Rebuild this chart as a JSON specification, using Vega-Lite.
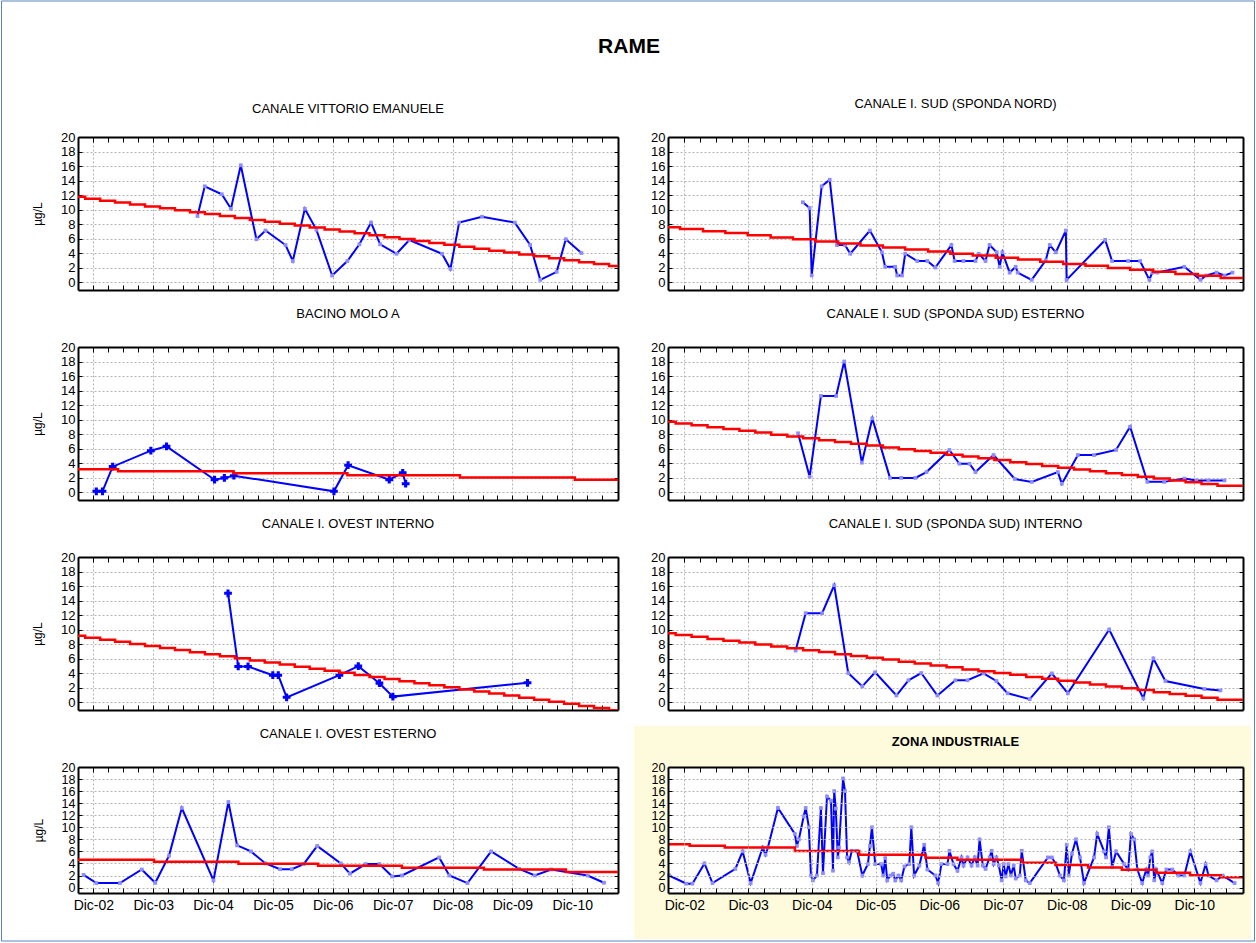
{
"$schema": "https://vega.github.io/schema/vega-lite/v6.json",
"background": "white",
"padding": {"left": 0, "top": 0, "right": 0, "bottom": 0},
"title": {"text": "RAME", "fontSize": 21, "fontWeight": "bold", "font": "Liberation Sans", "offset": -56, "anchor": "middle", "frame": "group", "dx": 551},
"columns": 2,
"bounds": "flush",
"spacing": {"row": 57, "column": 50},
"datasets": {
"obs": [
{"p":1,"t":2004.656,"v":9.1},{"p":1,"t":2004.777,"v":13.2},{"p":1,"t":2005.063,"v":12.1},{"p":1,"t":2005.215,"v":10.1},{"p":1,"t":2005.379,"v":16.1},{"p":1,"t":2005.640,"v":5.9},{"p":1,"t":2005.792,"v":7.1},{"p":1,"t":2006.127,"v":5.1},{"p":1,"t":2006.248,"v":2.9},{"p":1,"t":2006.449,"v":10.1},{"p":1,"t":2006.643,"v":7.2},{"p":1,"t":2006.905,"v":0.9},{"p":1,"t":2007.160,"v":2.9},{"p":1,"t":2007.361,"v":5.2},{"p":1,"t":2007.555,"v":8.2},{"p":1,"t":2007.707,"v":5.2},{"p":1,"t":2007.981,"v":3.9},{"p":1,"t":2008.194,"v":5.8},{"p":1,"t":2008.741,"v":3.9},{"p":1,"t":2008.881,"v":1.8},{"p":1,"t":2009.026,"v":8.2},{"p":1,"t":2009.409,"v":9.0},{"p":1,"t":2009.957,"v":8.2},{"p":1,"t":2010.212,"v":5.1},{"p":1,"t":2010.382,"v":0.3},{"p":1,"t":2010.656,"v":1.4},{"p":1,"t":2010.808,"v":5.9},{"p":1,"t":2011.069,"v":4.0},
{"p":2,"t":2004.775,"v":11.0},{"p":2,"t":2004.882,"v":10.2},{"p":2,"t":2004.914,"v":0.9},{"p":2,"t":2005.071,"v":13.2},{"p":2,"t":2005.197,"v":14.1},{"p":2,"t":2005.311,"v":5.1},{"p":2,"t":2005.437,"v":5.1},{"p":2,"t":2005.519,"v":3.9},{"p":2,"t":2005.827,"v":7.1},{"p":2,"t":2006.016,"v":4.1},{"p":2,"t":2006.066,"v":2.1},{"p":2,"t":2006.224,"v":2.1},{"p":2,"t":2006.255,"v":0.9},{"p":2,"t":2006.331,"v":0.9},{"p":2,"t":2006.381,"v":3.9},{"p":2,"t":2006.570,"v":2.9},{"p":2,"t":2006.728,"v":2.9},{"p":2,"t":2006.854,"v":2.0},{"p":2,"t":2007.106,"v":5.1},{"p":2,"t":2007.156,"v":2.9},{"p":2,"t":2007.295,"v":2.9},{"p":2,"t":2007.484,"v":2.9},{"p":2,"t":2007.534,"v":3.9},{"p":2,"t":2007.641,"v":2.9},{"p":2,"t":2007.704,"v":5.1},{"p":2,"t":2007.817,"v":4.1},{"p":2,"t":2007.862,"v":2.1},{"p":2,"t":2007.906,"v":4.1},{"p":2,"t":2008.019,"v":1.3},{"p":2,"t":2008.114,"v":2.1},{"p":2,"t":2008.145,"v":1.3},{"p":2,"t":2008.365,"v":0.3},{"p":2,"t":2008.586,"v":3.0},{"p":2,"t":2008.649,"v":5.1},{"p":2,"t":2008.744,"v":4.1},{"p":2,"t":2008.901,"v":7.1},{"p":2,"t":2008.913,"v":0.3},{"p":2,"t":2009.518,"v":5.8},{"p":2,"t":2009.626,"v":2.9},{"p":2,"t":2009.878,"v":2.9},{"p":2,"t":2010.066,"v":2.9},{"p":2,"t":2010.211,"v":0.3},{"p":2,"t":2010.256,"v":1.3},{"p":2,"t":2010.338,"v":1.3},{"p":2,"t":2010.760,"v":2.1},{"p":2,"t":2011.012,"v":0.3},{"p":2,"t":2011.106,"v":0.9},{"p":2,"t":2011.264,"v":1.3},{"p":2,"t":2011.390,"v":0.9},{"p":2,"t":2011.515,"v":1.3},
{"p":3,"t":2002.966,"v":0.1},{"p":3,"t":2003.069,"v":0.1},{"p":3,"t":2003.239,"v":3.5},{"p":3,"t":2003.877,"v":5.7},{"p":3,"t":2004.139,"v":6.3},{"p":3,"t":2004.941,"v":1.7},{"p":3,"t":2005.105,"v":1.95},{"p":3,"t":2005.263,"v":2.25},{"p":3,"t":2006.935,"v":0.1},{"p":3,"t":2007.172,"v":3.7},{"p":3,"t":2007.859,"v":1.7},{"p":3,"t":2008.084,"v":2.65},{"p":3,"t":2008.133,"v":1.15},
{"p":4,"t":2004.700,"v":8.1},{"p":4,"t":2004.882,"v":2.1},{"p":4,"t":2005.059,"v":13.25},{"p":4,"t":2005.298,"v":13.25},{"p":4,"t":2005.424,"v":18.0},{"p":4,"t":2005.701,"v":4.05},{"p":4,"t":2005.865,"v":10.15},{"p":4,"t":2006.142,"v":1.95},{"p":4,"t":2006.318,"v":1.95},{"p":4,"t":2006.539,"v":1.95},{"p":4,"t":2006.715,"v":2.75},{"p":4,"t":2007.074,"v":5.8},{"p":4,"t":2007.231,"v":3.9},{"p":4,"t":2007.389,"v":3.9},{"p":4,"t":2007.484,"v":2.75},{"p":4,"t":2007.767,"v":5.1},{"p":4,"t":2008.101,"v":1.8},{"p":4,"t":2008.366,"v":1.4},{"p":4,"t":2008.776,"v":2.75},{"p":4,"t":2008.838,"v":1.15},{"p":4,"t":2009.090,"v":5.1},{"p":4,"t":2009.342,"v":5.1},{"p":4,"t":2009.688,"v":5.8},{"p":4,"t":2009.909,"v":9.0},{"p":4,"t":2010.180,"v":1.4},{"p":4,"t":2010.444,"v":1.4},{"p":4,"t":2010.760,"v":1.85},{"p":4,"t":2010.948,"v":1.6},{"p":4,"t":2011.137,"v":1.6},{"p":4,"t":2011.389,"v":1.6},
{"p":5,"t":2005.166,"v":15.0},{"p":5,"t":2005.336,"v":4.9},{"p":5,"t":2005.500,"v":4.9},{"p":5,"t":2005.914,"v":3.7},{"p":5,"t":2006.005,"v":3.7},{"p":5,"t":2006.145,"v":0.65},{"p":5,"t":2007.026,"v":3.7},{"p":5,"t":2007.342,"v":4.95},{"p":5,"t":2007.695,"v":2.6},{"p":5,"t":2007.920,"v":0.75},{"p":5,"t":2010.169,"v":2.65},
{"p":6,"t":2004.662,"v":7.1},{"p":6,"t":2004.819,"v":12.25},{"p":6,"t":2005.078,"v":12.25},{"p":6,"t":2005.267,"v":16.1},{"p":6,"t":2005.487,"v":4.0},{"p":6,"t":2005.708,"v":2.15},{"p":6,"t":2005.909,"v":4.1},{"p":6,"t":2006.243,"v":0.9},{"p":6,"t":2006.432,"v":3.0},{"p":6,"t":2006.633,"v":4.0},{"p":6,"t":2006.886,"v":0.9},{"p":6,"t":2007.169,"v":3.0},{"p":6,"t":2007.358,"v":3.0},{"p":6,"t":2007.610,"v":3.95},{"p":6,"t":2007.811,"v":2.9},{"p":6,"t":2007.988,"v":1.2},{"p":6,"t":2008.334,"v":0.4},{"p":6,"t":2008.681,"v":3.95},{"p":6,"t":2008.932,"v":1.2},{"p":6,"t":2009.581,"v":10.0},{"p":6,"t":2010.117,"v":0.5},{"p":6,"t":2010.274,"v":6.0},{"p":6,"t":2010.463,"v":2.9},{"p":6,"t":2011.075,"v":1.8},{"p":6,"t":2011.326,"v":1.6},
{"p":7,"t":2002.753,"v":2.1},{"p":7,"t":2002.966,"v":0.75},{"p":7,"t":2003.361,"v":0.75},{"p":7,"t":2003.725,"v":3.0},{"p":7,"t":2003.950,"v":0.8},{"p":7,"t":2004.181,"v":5.3},{"p":7,"t":2004.394,"v":13.2},{"p":7,"t":2004.923,"v":1.2},{"p":7,"t":2005.172,"v":14.2},{"p":7,"t":2005.318,"v":7.0},{"p":7,"t":2005.549,"v":6.0},{"p":7,"t":2005.792,"v":4.0},{"p":7,"t":2006.036,"v":3.05},{"p":7,"t":2006.230,"v":3.05},{"p":7,"t":2006.430,"v":3.9},{"p":7,"t":2006.655,"v":6.9},{"p":7,"t":2007.050,"v":4.0},{"p":7,"t":2007.202,"v":2.3},{"p":7,"t":2007.464,"v":3.9},{"p":7,"t":2007.695,"v":3.9},{"p":7,"t":2007.908,"v":1.85},{"p":7,"t":2008.072,"v":2.0},{"p":7,"t":2008.692,"v":5.0},{"p":7,"t":2008.862,"v":2.0},{"p":7,"t":2009.166,"v":0.75},{"p":7,"t":2009.561,"v":6.0},{"p":7,"t":2010.029,"v":3.1},{"p":7,"t":2010.291,"v":2.0},{"p":7,"t":2010.564,"v":3.0},{"p":7,"t":2011.173,"v":2.0},{"p":7,"t":2011.446,"v":0.8},
{"p":8,"t":2002.678,"v":2.0},{"p":8,"t":2002.949,"v":0.65},{"p":8,"t":2003.043,"v":0.65},{"p":8,"t":2003.232,"v":4.0},{"p":8,"t":2003.358,"v":0.75},{"p":8,"t":2003.717,"v":3.1},{"p":8,"t":2003.831,"v":6.0},{"p":8,"t":2003.957,"v":0.75},{"p":8,"t":2004.146,"v":6.65},{"p":8,"t":2004.190,"v":5.45},{"p":8,"t":2004.227,"v":6.65},{"p":8,"t":2004.385,"v":13.2},{"p":8,"t":2004.650,"v":8.9},{"p":8,"t":2004.681,"v":6.9},{"p":8,"t":2004.713,"v":8.0},{"p":8,"t":2004.788,"v":11.8},{"p":8,"t":2004.820,"v":13.2},{"p":8,"t":2004.870,"v":10.0},{"p":8,"t":2004.902,"v":2.0},{"p":8,"t":2004.933,"v":1.2},{"p":8,"t":2004.996,"v":2.0},{"p":8,"t":2005.059,"v":13.2},{"p":8,"t":2005.091,"v":2.4},{"p":8,"t":2005.154,"v":15.1},{"p":8,"t":2005.217,"v":14.4},{"p":8,"t":2005.248,"v":2.8},{"p":8,"t":2005.267,"v":16.0},{"p":8,"t":2005.292,"v":13.1},{"p":8,"t":2005.324,"v":5.0},{"p":8,"t":2005.343,"v":6.65},{"p":8,"t":2005.406,"v":18.1},{"p":8,"t":2005.437,"v":16.0},{"p":8,"t":2005.469,"v":5.0},{"p":8,"t":2005.500,"v":4.2},{"p":8,"t":2005.544,"v":6.1},{"p":8,"t":2005.626,"v":6.1},{"p":8,"t":2005.708,"v":2.0},{"p":8,"t":2005.796,"v":3.9},{"p":8,"t":2005.828,"v":6.9},{"p":8,"t":2005.859,"v":10.0},{"p":8,"t":2005.910,"v":3.9},{"p":8,"t":2006.004,"v":3.9},{"p":8,"t":2006.036,"v":2.0},{"p":8,"t":2006.067,"v":4.9},{"p":8,"t":2006.099,"v":1.2},{"p":8,"t":2006.149,"v":2.0},{"p":8,"t":2006.193,"v":2.3},{"p":8,"t":2006.225,"v":1.2},{"p":8,"t":2006.275,"v":2.0},{"p":8,"t":2006.319,"v":1.2},{"p":8,"t":2006.369,"v":3.5},{"p":8,"t":2006.445,"v":3.9},{"p":8,"t":2006.477,"v":10.0},{"p":8,"t":2006.521,"v":2.0},{"p":8,"t":2006.603,"v":3.65},{"p":8,"t":2006.679,"v":7.1},{"p":8,"t":2006.729,"v":3.0},{"p":8,"t":2006.855,"v":2.0},{"p":8,"t":2006.899,"v":0.75},{"p":8,"t":2006.949,"v":3.9},{"p":8,"t":2007.044,"v":3.9},{"p":8,"t":2007.075,"v":6.1},{"p":8,"t":2007.138,"v":3.9},{"p":8,"t":2007.201,"v":2.8},{"p":8,"t":2007.264,"v":5.0},{"p":8,"t":2007.296,"v":3.65},{"p":8,"t":2007.359,"v":5.0},{"p":8,"t":2007.422,"v":3.65},{"p":8,"t":2007.472,"v":5.0},{"p":8,"t":2007.516,"v":3.65},{"p":8,"t":2007.548,"v":8.0},{"p":8,"t":2007.598,"v":3.65},{"p":8,"t":2007.642,"v":3.1},{"p":8,"t":2007.705,"v":5.0},{"p":8,"t":2007.737,"v":6.1},{"p":8,"t":2007.768,"v":3.9},{"p":8,"t":2007.812,"v":5.0},{"p":8,"t":2007.850,"v":3.65},{"p":8,"t":2007.894,"v":1.2},{"p":8,"t":2007.926,"v":3.9},{"p":8,"t":2007.957,"v":1.85},{"p":8,"t":2008.001,"v":3.9},{"p":8,"t":2008.039,"v":2.0},{"p":8,"t":2008.083,"v":3.65},{"p":8,"t":2008.115,"v":1.5},{"p":8,"t":2008.178,"v":2.0},{"p":8,"t":2008.209,"v":6.1},{"p":8,"t":2008.272,"v":1.2},{"p":8,"t":2008.335,"v":0.75},{"p":8,"t":2008.619,"v":5.0},{"p":8,"t":2008.682,"v":5.0},{"p":8,"t":2008.745,"v":3.9},{"p":8,"t":2008.808,"v":2.0},{"p":8,"t":2008.871,"v":1.2},{"p":8,"t":2008.915,"v":7.1},{"p":8,"t":2008.946,"v":2.0},{"p":8,"t":2008.997,"v":5.6},{"p":8,"t":2009.060,"v":8.0},{"p":8,"t":2009.123,"v":5.0},{"p":8,"t":2009.186,"v":0.75},{"p":8,"t":2009.343,"v":5.0},{"p":8,"t":2009.393,"v":8.9},{"p":8,"t":2009.501,"v":6.0},{"p":8,"t":2009.532,"v":5.0},{"p":8,"t":2009.576,"v":10.0},{"p":8,"t":2009.627,"v":3.4},{"p":8,"t":2009.690,"v":6.0},{"p":8,"t":2009.816,"v":3.9},{"p":8,"t":2009.879,"v":3.0},{"p":8,"t":2009.923,"v":8.9},{"p":8,"t":2009.973,"v":8.0},{"p":8,"t":2010.023,"v":3.0},{"p":8,"t":2010.099,"v":0.75},{"p":8,"t":2010.162,"v":3.0},{"p":8,"t":2010.193,"v":2.0},{"p":8,"t":2010.225,"v":5.0},{"p":8,"t":2010.256,"v":6.0},{"p":8,"t":2010.288,"v":1.2},{"p":8,"t":2010.319,"v":3.0},{"p":8,"t":2010.414,"v":0.75},{"p":8,"t":2010.477,"v":3.0},{"p":8,"t":2010.571,"v":3.0},{"p":8,"t":2010.665,"v":2.0},{"p":8,"t":2010.760,"v":2.0},{"p":8,"t":2010.854,"v":6.0},{"p":8,"t":2011.012,"v":0.75},{"p":8,"t":2011.094,"v":3.9},{"p":8,"t":2011.139,"v":2.0},{"p":8,"t":2011.265,"v":1.2},{"p":8,"t":2011.359,"v":2.0},{"p":8,"t":2011.548,"v":0.75}
],
"trend": [
{"p":1,"t":2002.66,"v":11.75},{"p":1,"t":2002.78,"v":11.49},{"p":1,"t":2003.03,"v":11.22},{"p":1,"t":2003.28,"v":10.96},{"p":1,"t":2003.53,"v":10.69},{"p":1,"t":2003.78,"v":10.43},{"p":1,"t":2004.03,"v":10.16},{"p":1,"t":2004.28,"v":9.9},{"p":1,"t":2004.53,"v":9.63},{"p":1,"t":2004.78,"v":9.37},{"p":1,"t":2005.03,"v":9.1},{"p":1,"t":2005.28,"v":8.84},{"p":1,"t":2005.53,"v":8.57},{"p":1,"t":2005.78,"v":8.31},{"p":1,"t":2006.03,"v":8.04},{"p":1,"t":2006.28,"v":7.78},{"p":1,"t":2006.53,"v":7.51},{"p":1,"t":2006.78,"v":7.25},{"p":1,"t":2007.03,"v":6.98},{"p":1,"t":2007.28,"v":6.72},{"p":1,"t":2007.53,"v":6.45},{"p":1,"t":2007.78,"v":6.19},{"p":1,"t":2008.03,"v":5.92},{"p":1,"t":2008.28,"v":5.66},{"p":1,"t":2008.53,"v":5.39},{"p":1,"t":2008.78,"v":5.13},{"p":1,"t":2009.03,"v":4.86},{"p":1,"t":2009.28,"v":4.6},{"p":1,"t":2009.53,"v":4.33},{"p":1,"t":2009.78,"v":4.07},{"p":1,"t":2010.03,"v":3.8},{"p":1,"t":2010.28,"v":3.54},{"p":1,"t":2010.53,"v":3.27},{"p":1,"t":2010.78,"v":3.01},{"p":1,"t":2011.03,"v":2.74},{"p":1,"t":2011.28,"v":2.48},{"p":1,"t":2011.53,"v":2.22},{"p":1,"t":2011.68,"v":2.22},
{"p":2,"t":2002.66,"v":7.55},{"p":2,"t":2002.85,"v":7.3},{"p":2,"t":2003.21,"v":7.0},{"p":2,"t":2003.56,"v":6.75},{"p":2,"t":2003.91,"v":6.45},{"p":2,"t":2004.27,"v":6.15},{"p":2,"t":2004.62,"v":5.9},{"p":2,"t":2004.97,"v":5.6},{"p":2,"t":2005.33,"v":5.3},{"p":2,"t":2005.68,"v":5.05},{"p":2,"t":2006.03,"v":4.75},{"p":2,"t":2006.38,"v":4.5},{"p":2,"t":2006.74,"v":4.2},{"p":2,"t":2007.09,"v":3.9},{"p":2,"t":2007.44,"v":3.65},{"p":2,"t":2007.80,"v":3.35},{"p":2,"t":2008.15,"v":3.1},{"p":2,"t":2008.50,"v":2.8},{"p":2,"t":2008.86,"v":2.5},{"p":2,"t":2009.21,"v":2.25},{"p":2,"t":2009.56,"v":1.95},{"p":2,"t":2009.91,"v":1.7},{"p":2,"t":2010.27,"v":1.4},{"p":2,"t":2010.62,"v":1.1},{"p":2,"t":2010.97,"v":0.85},{"p":2,"t":2011.33,"v":0.56},{"p":2,"t":2011.68,"v":0.56},
{"p":3,"t":2002.66,"v":3.15},{"p":3,"t":2003.33,"v":2.85},{"p":3,"t":2005.26,"v":2.6},{"p":3,"t":2007.16,"v":2.3},{"p":3,"t":2009.04,"v":2.0},{"p":3,"t":2010.96,"v":1.7},{"p":3,"t":2011.68,"v":1.7},
{"p":4,"t":2002.66,"v":9.7},{"p":4,"t":2002.78,"v":9.45},{"p":4,"t":2003.03,"v":9.2},{"p":4,"t":2003.28,"v":8.95},{"p":4,"t":2003.53,"v":8.7},{"p":4,"t":2003.78,"v":8.45},{"p":4,"t":2004.03,"v":8.2},{"p":4,"t":2004.28,"v":7.9},{"p":4,"t":2004.53,"v":7.65},{"p":4,"t":2004.78,"v":7.4},{"p":4,"t":2005.03,"v":7.15},{"p":4,"t":2005.28,"v":6.9},{"p":4,"t":2005.53,"v":6.65},{"p":4,"t":2005.78,"v":6.4},{"p":4,"t":2006.03,"v":6.15},{"p":4,"t":2006.28,"v":5.9},{"p":4,"t":2006.53,"v":5.65},{"p":4,"t":2006.78,"v":5.4},{"p":4,"t":2007.03,"v":5.15},{"p":4,"t":2007.28,"v":4.9},{"p":4,"t":2007.53,"v":4.65},{"p":4,"t":2007.78,"v":4.4},{"p":4,"t":2008.03,"v":4.1},{"p":4,"t":2008.28,"v":3.85},{"p":4,"t":2008.53,"v":3.6},{"p":4,"t":2008.78,"v":3.35},{"p":4,"t":2009.03,"v":3.1},{"p":4,"t":2009.28,"v":2.85},{"p":4,"t":2009.53,"v":2.6},{"p":4,"t":2009.78,"v":2.35},{"p":4,"t":2010.03,"v":2.1},{"p":4,"t":2010.28,"v":1.85},{"p":4,"t":2010.53,"v":1.6},{"p":4,"t":2010.78,"v":1.35},{"p":4,"t":2011.03,"v":1.1},{"p":4,"t":2011.28,"v":0.85},{"p":4,"t":2011.68,"v":0.85},
{"p":5,"t":2002.66,"v":9.15},{"p":5,"t":2002.78,"v":8.87},{"p":5,"t":2003.03,"v":8.58},{"p":5,"t":2003.28,"v":8.3},{"p":5,"t":2003.53,"v":8.01},{"p":5,"t":2003.78,"v":7.73},{"p":5,"t":2004.03,"v":7.44},{"p":5,"t":2004.28,"v":7.16},{"p":5,"t":2004.53,"v":6.87},{"p":5,"t":2004.78,"v":6.59},{"p":5,"t":2005.03,"v":6.3},{"p":5,"t":2005.28,"v":6.02},{"p":5,"t":2005.53,"v":5.73},{"p":5,"t":2005.78,"v":5.45},{"p":5,"t":2006.03,"v":5.16},{"p":5,"t":2006.28,"v":4.88},{"p":5,"t":2006.53,"v":4.59},{"p":5,"t":2006.78,"v":4.31},{"p":5,"t":2007.03,"v":4.02},{"p":5,"t":2007.28,"v":3.74},{"p":5,"t":2007.53,"v":3.45},{"p":5,"t":2007.78,"v":3.17},{"p":5,"t":2008.03,"v":2.88},{"p":5,"t":2008.28,"v":2.6},{"p":5,"t":2008.53,"v":2.31},{"p":5,"t":2008.78,"v":2.03},{"p":5,"t":2009.03,"v":1.74},{"p":5,"t":2009.28,"v":1.46},{"p":5,"t":2009.53,"v":1.17},{"p":5,"t":2009.78,"v":0.89},{"p":5,"t":2010.03,"v":0.6},{"p":5,"t":2010.28,"v":0.32},{"p":5,"t":2010.53,"v":0.03},{"p":5,"t":2010.78,"v":-0.25},{"p":5,"t":2011.03,"v":-0.54},{"p":5,"t":2011.28,"v":-0.82},{"p":5,"t":2011.53,"v":-1.15},{"p":5,"t":2011.68,"v":-1.15},
{"p":6,"t":2002.66,"v":9.5},{"p":6,"t":2002.78,"v":9.25},{"p":6,"t":2003.03,"v":9.0},{"p":6,"t":2003.28,"v":8.7},{"p":6,"t":2003.53,"v":8.45},{"p":6,"t":2003.78,"v":8.2},{"p":6,"t":2004.03,"v":7.95},{"p":6,"t":2004.28,"v":7.65},{"p":6,"t":2004.53,"v":7.4},{"p":6,"t":2004.78,"v":7.15},{"p":6,"t":2005.03,"v":6.9},{"p":6,"t":2005.28,"v":6.6},{"p":6,"t":2005.53,"v":6.35},{"p":6,"t":2005.78,"v":6.1},{"p":6,"t":2006.03,"v":5.85},{"p":6,"t":2006.28,"v":5.55},{"p":6,"t":2006.53,"v":5.3},{"p":6,"t":2006.78,"v":5.05},{"p":6,"t":2007.03,"v":4.8},{"p":6,"t":2007.28,"v":4.5},{"p":6,"t":2007.53,"v":4.25},{"p":6,"t":2007.78,"v":4.0},{"p":6,"t":2008.03,"v":3.75},{"p":6,"t":2008.28,"v":3.45},{"p":6,"t":2008.53,"v":3.2},{"p":6,"t":2008.78,"v":2.95},{"p":6,"t":2009.03,"v":2.7},{"p":6,"t":2009.28,"v":2.4},{"p":6,"t":2009.53,"v":2.15},{"p":6,"t":2009.78,"v":1.9},{"p":6,"t":2010.03,"v":1.65},{"p":6,"t":2010.28,"v":1.35},{"p":6,"t":2010.53,"v":1.1},{"p":6,"t":2010.78,"v":0.85},{"p":6,"t":2011.03,"v":0.6},{"p":6,"t":2011.28,"v":0.3},{"p":6,"t":2011.68,"v":0.3},
{"p":7,"t":2002.66,"v":4.6},{"p":7,"t":2003.93,"v":4.3},{"p":7,"t":2005.34,"v":3.95},{"p":7,"t":2006.67,"v":3.6},{"p":7,"t":2008.07,"v":3.3},{"p":7,"t":2009.44,"v":3.0},{"p":7,"t":2010.81,"v":2.6},{"p":7,"t":2011.68,"v":2.6},
{"p":8,"t":2002.66,"v":7.2},{"p":8,"t":2003.0,"v":6.95},{"p":8,"t":2003.55,"v":6.65},{"p":8,"t":2004.65,"v":6.05},{"p":8,"t":2005.66,"v":5.45},{"p":8,"t":2006.7,"v":4.95},{"p":8,"t":2007.2,"v":4.6},{"p":8,"t":2008.21,"v":4.1},{"p":8,"t":2008.74,"v":3.75},{"p":8,"t":2009.25,"v":3.35},{"p":8,"t":2009.78,"v":2.95},{"p":8,"t":2010.32,"v":2.45},{"p":8,"t":2010.85,"v":2.05},{"p":8,"t":2011.33,"v":1.7},{"p":8,"t":2011.68,"v":1.7}
]
},
"concat": [
{
"width": 540, "height": 153,
"title": {"text": "CANALE VITTORIO EMANUELE", "fontSize": 13, "fontWeight": "normal", "offset": -115.5, "frame": "group", "anchor": "middle"},
"layer": [
{"data": {"values": [{}]},
"mark": {"type": "rect", "filled": false, "stroke": "#5b84c0", "strokeWidth": 1},
"encoding": {
"x": {"datum": 2001.382, "type": "quantitative", "scale": {"domain": [2002.66, 2011.68], "nice": false, "zero": false}, "axis": null},
"x2": {"datum": 2022.312},
"y": {"datum": 38.755, "type": "quantitative", "scale": {"domain": [-1.1, 20], "nice": false, "zero": false}, "axis": null},
"y2": {"datum": -90.88}
}},
{"data": {"name": "obs"}, "transform": [{"filter": "datum.p == 1"}],
"mark": {"type": "line", "color": "#0000ff", "strokeWidth": 2, "point": {"shape": "square", "size": 14, "filled": true, "color": "#8c8cff"}},
"encoding": {
"x": {"field": "t", "type": "quantitative", "scale": {"domain": [2002.66, 2011.68], "nice": false, "zero": false}, "axis": {"orient": "bottom", "title": null, "values": [2002.9167,2003.1667,2003.4167,2003.6667,2003.9167,2004.1667,2004.4167,2004.6667,2004.9167,2005.1667,2005.4167,2005.6667,2005.9167,2006.1667,2006.4167,2006.6667,2006.9167,2007.1667,2007.4167,2007.6667,2007.9167,2008.1667,2008.4167,2008.6667,2008.9167,2009.1667,2009.4167,2009.6667,2009.9167,2010.1667,2010.4167,2010.6667,2010.9167,2011.1667,2011.4167], "labels": false, "grid": true, "gridOpacity": {"condition": {"test": "datum.value % 1 > 0.9", "value": 1}, "value": 0}, "tickSize": -5}},
"y": {"field": "v", "type": "quantitative", "scale": {"domain": [-1.1, 20], "nice": false, "zero": false}, "axis": {"orient": "left", "values": [0,2,4,6,8,10,12,14,16,18,20], "grid": true, "tickSize": -4, "labelFontSize": 13, "labelPadding": 7, "labelOverlap": false, "title": "µg/L", "titleFontSize": 12, "titleFontWeight": "normal", "titlePadding": 16}}
}},
{"data": {"name": "trend"}, "transform": [{"filter": "datum.p == 1"}],
"mark": {"type": "line", "color": "#ff0000", "strokeWidth": 2.5, "interpolate": "step-after"},
"encoding": {
"x": {"field": "t", "type": "quantitative", "scale": {"domain": [2002.66, 2011.68], "nice": false, "zero": false}, "axis": {"orient": "top", "title": null, "values": [2002.9167,2003.1667,2003.4167,2003.6667,2003.9167,2004.1667,2004.4167,2004.6667,2004.9167,2005.1667,2005.4167,2005.6667,2005.9167,2006.1667,2006.4167,2006.6667,2006.9167,2007.1667,2007.4167,2007.6667,2007.9167,2008.1667,2008.4167,2008.6667,2008.9167,2009.1667,2009.4167,2009.6667,2009.9167,2010.1667,2010.4167,2010.6667,2010.9167,2011.1667,2011.4167], "labels": false, "grid": false, "tickSize": -5}},
"y": {"field": "v", "type": "quantitative", "scale": {"domain": [-1.1, 20], "nice": false, "zero": false}, "axis": {"orient": "right", "values": [0,2,4,6,8,10,12,14,16,18,20], "grid": false, "labels": false, "tickSize": -4, "title": null}}
}}
],
"resolve": {"axis": {"x": "independent", "y": "independent"}}
},
{
"width": 575, "height": 153,
"title": {"text": "CANALE I. SUD (SPONDA NORD)", "fontSize": 13, "fontWeight": "normal", "offset": 20, "frame": "group", "anchor": "middle"},
"layer": [
{"data": {"name": "obs"}, "transform": [{"filter": "datum.p == 2"}],
"mark": {"type": "line", "color": "#0000ff", "strokeWidth": 2, "point": {"shape": "square", "size": 14, "filled": true, "color": "#8c8cff"}},
"encoding": {
"x": {"field": "t", "type": "quantitative", "scale": {"domain": [2002.66, 2011.68], "nice": false, "zero": false}, "axis": {"orient": "bottom", "title": null, "values": [2002.9167,2003.1667,2003.4167,2003.6667,2003.9167,2004.1667,2004.4167,2004.6667,2004.9167,2005.1667,2005.4167,2005.6667,2005.9167,2006.1667,2006.4167,2006.6667,2006.9167,2007.1667,2007.4167,2007.6667,2007.9167,2008.1667,2008.4167,2008.6667,2008.9167,2009.1667,2009.4167,2009.6667,2009.9167,2010.1667,2010.4167,2010.6667,2010.9167,2011.1667,2011.4167], "labels": false, "grid": true, "gridOpacity": {"condition": {"test": "datum.value % 1 > 0.9", "value": 1}, "value": 0}, "tickSize": -5}},
"y": {"field": "v", "type": "quantitative", "scale": {"domain": [-1.1, 20], "nice": false, "zero": false}, "axis": {"orient": "left", "values": [0,2,4,6,8,10,12,14,16,18,20], "grid": true, "tickSize": -4, "labelFontSize": 13, "labelPadding": 7, "labelOverlap": false, "title": null}}
}},
{"data": {"name": "trend"}, "transform": [{"filter": "datum.p == 2"}],
"mark": {"type": "line", "color": "#ff0000", "strokeWidth": 2.5, "interpolate": "step-after"},
"encoding": {
"x": {"field": "t", "type": "quantitative", "scale": {"domain": [2002.66, 2011.68], "nice": false, "zero": false}, "axis": {"orient": "top", "title": null, "values": [2002.9167,2003.1667,2003.4167,2003.6667,2003.9167,2004.1667,2004.4167,2004.6667,2004.9167,2005.1667,2005.4167,2005.6667,2005.9167,2006.1667,2006.4167,2006.6667,2006.9167,2007.1667,2007.4167,2007.6667,2007.9167,2008.1667,2008.4167,2008.6667,2008.9167,2009.1667,2009.4167,2009.6667,2009.9167,2010.1667,2010.4167,2010.6667,2010.9167,2011.1667,2011.4167], "labels": false, "grid": false, "tickSize": -5}},
"y": {"field": "v", "type": "quantitative", "scale": {"domain": [-1.1, 20], "nice": false, "zero": false}, "axis": {"orient": "right", "values": [0,2,4,6,8,10,12,14,16,18,20], "grid": false, "labels": false, "tickSize": -4, "title": null}}
}}
],
"resolve": {"axis": {"x": "independent", "y": "independent"}}
},
{
"width": 540, "height": 153,
"title": {"text": "BACINO MOLO A", "fontSize": 13, "fontWeight": "normal", "offset": 20, "frame": "group", "anchor": "middle"},
"layer": [
{"data": {"name": "obs"}, "transform": [{"filter": "datum.p == 3"}],
"mark": {"type": "line", "color": "#0000ff", "strokeWidth": 2, "point": {"shape": "cross", "size": 60, "filled": true, "color": "#0000ff"}},
"encoding": {
"x": {"field": "t", "type": "quantitative", "scale": {"domain": [2002.66, 2011.68], "nice": false, "zero": false}, "axis": {"orient": "bottom", "title": null, "values": [2002.9167,2003.1667,2003.4167,2003.6667,2003.9167,2004.1667,2004.4167,2004.6667,2004.9167,2005.1667,2005.4167,2005.6667,2005.9167,2006.1667,2006.4167,2006.6667,2006.9167,2007.1667,2007.4167,2007.6667,2007.9167,2008.1667,2008.4167,2008.6667,2008.9167,2009.1667,2009.4167,2009.6667,2009.9167,2010.1667,2010.4167,2010.6667,2010.9167,2011.1667,2011.4167], "labels": false, "grid": true, "gridOpacity": {"condition": {"test": "datum.value % 1 > 0.9", "value": 1}, "value": 0}, "tickSize": -5}},
"y": {"field": "v", "type": "quantitative", "scale": {"domain": [-1.1, 20], "nice": false, "zero": false}, "axis": {"orient": "left", "values": [0,2,4,6,8,10,12,14,16,18,20], "grid": true, "tickSize": -4, "labelFontSize": 13, "labelPadding": 7, "labelOverlap": false, "title": "µg/L", "titleFontSize": 12, "titleFontWeight": "normal", "titlePadding": 16}}
}},
{"data": {"name": "trend"}, "transform": [{"filter": "datum.p == 3"}],
"mark": {"type": "line", "color": "#ff0000", "strokeWidth": 2.5, "interpolate": "step-after"},
"encoding": {
"x": {"field": "t", "type": "quantitative", "scale": {"domain": [2002.66, 2011.68], "nice": false, "zero": false}, "axis": {"orient": "top", "title": null, "values": [2002.9167,2003.1667,2003.4167,2003.6667,2003.9167,2004.1667,2004.4167,2004.6667,2004.9167,2005.1667,2005.4167,2005.6667,2005.9167,2006.1667,2006.4167,2006.6667,2006.9167,2007.1667,2007.4167,2007.6667,2007.9167,2008.1667,2008.4167,2008.6667,2008.9167,2009.1667,2009.4167,2009.6667,2009.9167,2010.1667,2010.4167,2010.6667,2010.9167,2011.1667,2011.4167], "labels": false, "grid": false, "tickSize": -5}},
"y": {"field": "v", "type": "quantitative", "scale": {"domain": [-1.1, 20], "nice": false, "zero": false}, "axis": {"orient": "right", "values": [0,2,4,6,8,10,12,14,16,18,20], "grid": false, "labels": false, "tickSize": -4, "title": null}}
}}
],
"resolve": {"axis": {"x": "independent", "y": "independent"}}
},
{
"width": 575, "height": 153,
"title": {"text": "CANALE I. SUD (SPONDA SUD) ESTERNO", "fontSize": 13, "fontWeight": "normal", "offset": 20, "frame": "group", "anchor": "middle"},
"layer": [
{"data": {"name": "obs"}, "transform": [{"filter": "datum.p == 4"}],
"mark": {"type": "line", "color": "#0000ff", "strokeWidth": 2, "point": {"shape": "square", "size": 14, "filled": true, "color": "#8c8cff"}},
"encoding": {
"x": {"field": "t", "type": "quantitative", "scale": {"domain": [2002.66, 2011.68], "nice": false, "zero": false}, "axis": {"orient": "bottom", "title": null, "values": [2002.9167,2003.1667,2003.4167,2003.6667,2003.9167,2004.1667,2004.4167,2004.6667,2004.9167,2005.1667,2005.4167,2005.6667,2005.9167,2006.1667,2006.4167,2006.6667,2006.9167,2007.1667,2007.4167,2007.6667,2007.9167,2008.1667,2008.4167,2008.6667,2008.9167,2009.1667,2009.4167,2009.6667,2009.9167,2010.1667,2010.4167,2010.6667,2010.9167,2011.1667,2011.4167], "labels": false, "grid": true, "gridOpacity": {"condition": {"test": "datum.value % 1 > 0.9", "value": 1}, "value": 0}, "tickSize": -5}},
"y": {"field": "v", "type": "quantitative", "scale": {"domain": [-1.1, 20], "nice": false, "zero": false}, "axis": {"orient": "left", "values": [0,2,4,6,8,10,12,14,16,18,20], "grid": true, "tickSize": -4, "labelFontSize": 13, "labelPadding": 7, "labelOverlap": false, "title": null}}
}},
{"data": {"name": "trend"}, "transform": [{"filter": "datum.p == 4"}],
"mark": {"type": "line", "color": "#ff0000", "strokeWidth": 2.5, "interpolate": "step-after"},
"encoding": {
"x": {"field": "t", "type": "quantitative", "scale": {"domain": [2002.66, 2011.68], "nice": false, "zero": false}, "axis": {"orient": "top", "title": null, "values": [2002.9167,2003.1667,2003.4167,2003.6667,2003.9167,2004.1667,2004.4167,2004.6667,2004.9167,2005.1667,2005.4167,2005.6667,2005.9167,2006.1667,2006.4167,2006.6667,2006.9167,2007.1667,2007.4167,2007.6667,2007.9167,2008.1667,2008.4167,2008.6667,2008.9167,2009.1667,2009.4167,2009.6667,2009.9167,2010.1667,2010.4167,2010.6667,2010.9167,2011.1667,2011.4167], "labels": false, "grid": false, "tickSize": -5}},
"y": {"field": "v", "type": "quantitative", "scale": {"domain": [-1.1, 20], "nice": false, "zero": false}, "axis": {"orient": "right", "values": [0,2,4,6,8,10,12,14,16,18,20], "grid": false, "labels": false, "tickSize": -4, "title": null}}
}}
],
"resolve": {"axis": {"x": "independent", "y": "independent"}}
},
{
"width": 540, "height": 153,
"title": {"text": "CANALE I. OVEST INTERNO", "fontSize": 13, "fontWeight": "normal", "offset": 20, "frame": "group", "anchor": "middle"},
"layer": [
{"data": {"name": "obs"}, "transform": [{"filter": "datum.p == 5"}],
"mark": {"type": "line", "color": "#0000ff", "strokeWidth": 2, "point": {"shape": "cross", "size": 60, "filled": true, "color": "#0000ff"}},
"encoding": {
"x": {"field": "t", "type": "quantitative", "scale": {"domain": [2002.66, 2011.68], "nice": false, "zero": false}, "axis": {"orient": "bottom", "title": null, "values": [2002.9167,2003.1667,2003.4167,2003.6667,2003.9167,2004.1667,2004.4167,2004.6667,2004.9167,2005.1667,2005.4167,2005.6667,2005.9167,2006.1667,2006.4167,2006.6667,2006.9167,2007.1667,2007.4167,2007.6667,2007.9167,2008.1667,2008.4167,2008.6667,2008.9167,2009.1667,2009.4167,2009.6667,2009.9167,2010.1667,2010.4167,2010.6667,2010.9167,2011.1667,2011.4167], "labels": false, "grid": true, "gridOpacity": {"condition": {"test": "datum.value % 1 > 0.9", "value": 1}, "value": 0}, "tickSize": -5}},
"y": {"field": "v", "type": "quantitative", "scale": {"domain": [-1.1, 20], "nice": false, "zero": false}, "axis": {"orient": "left", "values": [0,2,4,6,8,10,12,14,16,18,20], "grid": true, "tickSize": -4, "labelFontSize": 13, "labelPadding": 7, "labelOverlap": false, "title": "µg/L", "titleFontSize": 12, "titleFontWeight": "normal", "titlePadding": 16}}
}},
{"data": {"name": "trend"}, "transform": [{"filter": "datum.p == 5"}],
"mark": {"type": "line", "color": "#ff0000", "strokeWidth": 2.5, "interpolate": "step-after", "clip": true},
"encoding": {
"x": {"field": "t", "type": "quantitative", "scale": {"domain": [2002.66, 2011.68], "nice": false, "zero": false}, "axis": {"orient": "top", "title": null, "values": [2002.9167,2003.1667,2003.4167,2003.6667,2003.9167,2004.1667,2004.4167,2004.6667,2004.9167,2005.1667,2005.4167,2005.6667,2005.9167,2006.1667,2006.4167,2006.6667,2006.9167,2007.1667,2007.4167,2007.6667,2007.9167,2008.1667,2008.4167,2008.6667,2008.9167,2009.1667,2009.4167,2009.6667,2009.9167,2010.1667,2010.4167,2010.6667,2010.9167,2011.1667,2011.4167], "labels": false, "grid": false, "tickSize": -5}},
"y": {"field": "v", "type": "quantitative", "scale": {"domain": [-1.1, 20], "nice": false, "zero": false}, "axis": {"orient": "right", "values": [0,2,4,6,8,10,12,14,16,18,20], "grid": false, "labels": false, "tickSize": -4, "title": null}}
}}
],
"resolve": {"axis": {"x": "independent", "y": "independent"}}
},
{
"width": 575, "height": 153,
"title": {"text": "CANALE I. SUD (SPONDA SUD) INTERNO", "fontSize": 13, "fontWeight": "normal", "offset": 20, "frame": "group", "anchor": "middle"},
"layer": [
{"data": {"name": "obs"}, "transform": [{"filter": "datum.p == 6"}],
"mark": {"type": "line", "color": "#0000ff", "strokeWidth": 2, "point": {"shape": "square", "size": 14, "filled": true, "color": "#8c8cff"}},
"encoding": {
"x": {"field": "t", "type": "quantitative", "scale": {"domain": [2002.66, 2011.68], "nice": false, "zero": false}, "axis": {"orient": "bottom", "title": null, "values": [2002.9167,2003.1667,2003.4167,2003.6667,2003.9167,2004.1667,2004.4167,2004.6667,2004.9167,2005.1667,2005.4167,2005.6667,2005.9167,2006.1667,2006.4167,2006.6667,2006.9167,2007.1667,2007.4167,2007.6667,2007.9167,2008.1667,2008.4167,2008.6667,2008.9167,2009.1667,2009.4167,2009.6667,2009.9167,2010.1667,2010.4167,2010.6667,2010.9167,2011.1667,2011.4167], "labels": false, "grid": true, "gridOpacity": {"condition": {"test": "datum.value % 1 > 0.9", "value": 1}, "value": 0}, "tickSize": -5}},
"y": {"field": "v", "type": "quantitative", "scale": {"domain": [-1.1, 20], "nice": false, "zero": false}, "axis": {"orient": "left", "values": [0,2,4,6,8,10,12,14,16,18,20], "grid": true, "tickSize": -4, "labelFontSize": 13, "labelPadding": 7, "labelOverlap": false, "title": null}}
}},
{"data": {"name": "trend"}, "transform": [{"filter": "datum.p == 6"}],
"mark": {"type": "line", "color": "#ff0000", "strokeWidth": 2.5, "interpolate": "step-after"},
"encoding": {
"x": {"field": "t", "type": "quantitative", "scale": {"domain": [2002.66, 2011.68], "nice": false, "zero": false}, "axis": {"orient": "top", "title": null, "values": [2002.9167,2003.1667,2003.4167,2003.6667,2003.9167,2004.1667,2004.4167,2004.6667,2004.9167,2005.1667,2005.4167,2005.6667,2005.9167,2006.1667,2006.4167,2006.6667,2006.9167,2007.1667,2007.4167,2007.6667,2007.9167,2008.1667,2008.4167,2008.6667,2008.9167,2009.1667,2009.4167,2009.6667,2009.9167,2010.1667,2010.4167,2010.6667,2010.9167,2011.1667,2011.4167], "labels": false, "grid": false, "tickSize": -5}},
"y": {"field": "v", "type": "quantitative", "scale": {"domain": [-1.1, 20], "nice": false, "zero": false}, "axis": {"orient": "right", "values": [0,2,4,6,8,10,12,14,16,18,20], "grid": false, "labels": false, "tickSize": -4, "title": null}}
}}
],
"resolve": {"axis": {"x": "independent", "y": "independent"}}
},
{
"width": 540, "height": 126,
"title": {"text": "CANALE I. OVEST ESTERNO", "fontSize": 13, "fontWeight": "normal", "offset": 20, "frame": "group", "anchor": "middle"},
"layer": [
{"data": {"name": "obs"}, "transform": [{"filter": "datum.p == 7"}],
"mark": {"type": "line", "color": "#0000ff", "strokeWidth": 2, "point": {"shape": "square", "size": 14, "filled": true, "color": "#8c8cff"}},
"encoding": {
"x": {"field": "t", "type": "quantitative", "scale": {"domain": [2002.66, 2011.68], "nice": false, "zero": false}, "axis": {"orient": "bottom", "title": null, "values": [2002.9167,2003.1667,2003.4167,2003.6667,2003.9167,2004.1667,2004.4167,2004.6667,2004.9167,2005.1667,2005.4167,2005.6667,2005.9167,2006.1667,2006.4167,2006.6667,2006.9167,2007.1667,2007.4167,2007.6667,2007.9167,2008.1667,2008.4167,2008.6667,2008.9167,2009.1667,2009.4167,2009.6667,2009.9167,2010.1667,2010.4167,2010.6667,2010.9167,2011.1667,2011.4167], "labels": true, "labelExpr": "datum.value % 1 > 0.9 ? 'Dic-' + substring('' + floor(datum.value), 2) : ''", "labelFontSize": 14, "labelPadding": 10, "labelOverlap": false, "labelFlush": false, "grid": true, "gridOpacity": {"condition": {"test": "datum.value % 1 > 0.9", "value": 1}, "value": 0}, "tickSize": -5}},
"y": {"field": "v", "type": "quantitative", "scale": {"domain": [-0.9, 20], "nice": false, "zero": false}, "axis": {"orient": "left", "values": [0,2,4,6,8,10,12,14,16,18,20], "grid": true, "tickSize": -4, "labelFontSize": 12.5, "labelPadding": 7, "labelOverlap": false, "title": "µg/L", "titleFontSize": 12, "titleFontWeight": "normal", "titlePadding": 16}}
}},
{"data": {"name": "trend"}, "transform": [{"filter": "datum.p == 7"}],
"mark": {"type": "line", "color": "#ff0000", "strokeWidth": 2.5, "interpolate": "step-after"},
"encoding": {
"x": {"field": "t", "type": "quantitative", "scale": {"domain": [2002.66, 2011.68], "nice": false, "zero": false}, "axis": {"orient": "top", "title": null, "values": [2002.9167,2003.1667,2003.4167,2003.6667,2003.9167,2004.1667,2004.4167,2004.6667,2004.9167,2005.1667,2005.4167,2005.6667,2005.9167,2006.1667,2006.4167,2006.6667,2006.9167,2007.1667,2007.4167,2007.6667,2007.9167,2008.1667,2008.4167,2008.6667,2008.9167,2009.1667,2009.4167,2009.6667,2009.9167,2010.1667,2010.4167,2010.6667,2010.9167,2011.1667,2011.4167], "labels": false, "grid": false, "tickSize": -5}},
"y": {"field": "v", "type": "quantitative", "scale": {"domain": [-0.9, 20], "nice": false, "zero": false}, "axis": {"orient": "right", "values": [0,2,4,6,8,10,12,14,16,18,20], "grid": false, "labels": false, "tickSize": -4, "title": null}}
}}
],
"resolve": {"axis": {"x": "independent", "y": "independent"}}
},
{
"width": 575, "height": 126,
"title": {"text": "ZONA INDUSTRIALE", "fontSize": 13, "fontWeight": "bold", "offset": -23, "frame": "group", "anchor": "middle", "zindex": 1},
"layer": [
{"data": {"values": [{}]},
"mark": {"type": "rect", "color": "#fdfbdc"},
"encoding": {
"x": {"datum": 2002.126, "type": "quantitative", "scale": {"domain": [2002.66, 2011.68], "nice": false, "zero": false}, "axis": null},
"x2": {"datum": 2011.806},
"y": {"datum": 26.8, "type": "quantitative", "scale": {"domain": [-0.9, 20], "nice": false, "zero": false}, "axis": null},
"y2": {"datum": -8.53}
}},
{"data": {"values": [{}]},
"mark": {"type": "rect", "color": "#ffffff"},
"encoding": {
"x": {"datum": 2002.66, "type": "quantitative", "scale": {"domain": [2002.66, 2011.68], "nice": false, "zero": false}, "axis": null},
"x2": {"datum": 2011.68},
"y": {"datum": 20, "type": "quantitative", "scale": {"domain": [-0.9, 20], "nice": false, "zero": false}, "axis": null},
"y2": {"datum": -0.9}
}},
{"data": {"name": "obs"}, "transform": [{"filter": "datum.p == 8"}],
"mark": {"type": "line", "color": "#0000ff", "strokeWidth": 2, "point": {"shape": "square", "size": 14, "filled": true, "color": "#8c8cff"}},
"encoding": {
"x": {"field": "t", "type": "quantitative", "scale": {"domain": [2002.66, 2011.68], "nice": false, "zero": false}, "axis": {"orient": "bottom", "zindex": 1, "title": null, "values": [2002.9167,2003.1667,2003.4167,2003.6667,2003.9167,2004.1667,2004.4167,2004.6667,2004.9167,2005.1667,2005.4167,2005.6667,2005.9167,2006.1667,2006.4167,2006.6667,2006.9167,2007.1667,2007.4167,2007.6667,2007.9167,2008.1667,2008.4167,2008.6667,2008.9167,2009.1667,2009.4167,2009.6667,2009.9167,2010.1667,2010.4167,2010.6667,2010.9167,2011.1667,2011.4167], "labels": true, "labelExpr": "datum.value % 1 > 0.9 ? 'Dic-' + substring('' + floor(datum.value), 2) : ''", "labelFontSize": 14, "labelPadding": 10, "labelOverlap": false, "labelFlush": false, "grid": true, "gridOpacity": {"condition": {"test": "datum.value % 1 > 0.9", "value": 1}, "value": 0}, "tickSize": -5}},
"y": {"field": "v", "type": "quantitative", "scale": {"domain": [-0.9, 20], "nice": false, "zero": false}, "axis": {"orient": "left", "zindex": 1, "values": [0,2,4,6,8,10,12,14,16,18,20], "grid": true, "tickSize": -4, "labelFontSize": 12.5, "labelPadding": 7, "labelOverlap": false, "title": null}}
}},
{"data": {"name": "trend"}, "transform": [{"filter": "datum.p == 8"}],
"mark": {"type": "line", "color": "#ff0000", "strokeWidth": 2.5, "interpolate": "step-after"},
"encoding": {
"x": {"field": "t", "type": "quantitative", "scale": {"domain": [2002.66, 2011.68], "nice": false, "zero": false}, "axis": {"orient": "top", "zindex": 1, "title": null, "values": [2002.9167,2003.1667,2003.4167,2003.6667,2003.9167,2004.1667,2004.4167,2004.6667,2004.9167,2005.1667,2005.4167,2005.6667,2005.9167,2006.1667,2006.4167,2006.6667,2006.9167,2007.1667,2007.4167,2007.6667,2007.9167,2008.1667,2008.4167,2008.6667,2008.9167,2009.1667,2009.4167,2009.6667,2009.9167,2010.1667,2010.4167,2010.6667,2010.9167,2011.1667,2011.4167], "labels": false, "grid": false, "tickSize": -5}},
"y": {"field": "v", "type": "quantitative", "scale": {"domain": [-0.9, 20], "nice": false, "zero": false}, "axis": {"orient": "right", "zindex": 1, "values": [0,2,4,6,8,10,12,14,16,18,20], "grid": false, "labels": false, "tickSize": -4, "title": null}}
}}
],
"resolve": {"axis": {"x": "independent", "y": "independent"}}
}
],
"config": {
"font": "Liberation Sans",
"view": {"stroke": null},
"axis": {"labelFont": "Liberation Sans", "titleFont": "Liberation Sans", "labelColor": "#000000", "titleColor": "#000000", "tickColor": "#000000", "tickWidth": 1, "gridColor": "#b4b4b4", "gridDash": [2, 2], "gridWidth": 1, "domain": true, "domainColor": "#000000", "domainWidth": 2},
"title": {"font": "Liberation Sans", "color": "#000000"}
}
}
